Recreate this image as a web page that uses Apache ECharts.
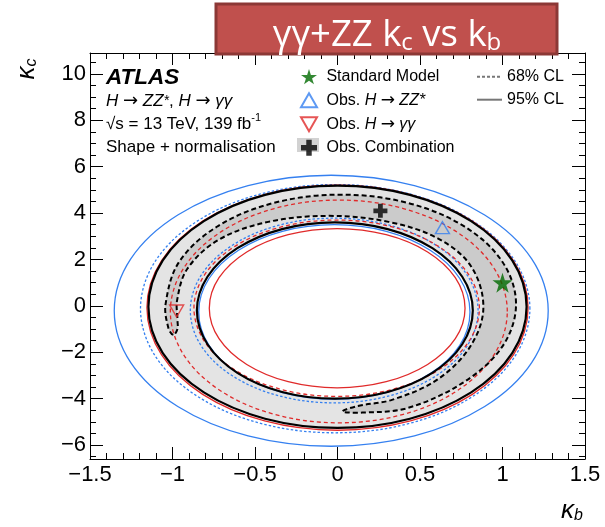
<!DOCTYPE html>
<html>
<head>
<meta charset="utf-8">
<script src="https://cdn.jsdelivr.net/npm/echarts@6/dist/echarts.min.js"></script>
<style>html,body{margin:0;padding:0;background:#fff}#chart{width:605px;height:527px}</style>
</head>
<body>
<div id="chart"></div>
<script>
// ---------------- data ----------------
const xTicks = [-1.5, -1, -0.5, 0, 0.5, 1, 1.5];
const xTickLabels = ['\u22121.5', '\u22121', '\u22120.5', '0', '0.5', '1', '1.5'];
const xMinorTicks = [-1.4,-1.3,-1.2,-1.1,-0.9,-0.8,-0.7,-0.6,-0.4,-0.3,-0.2,-0.1,0.1,0.2,0.3,0.4,0.6,0.7,0.8,0.9,1.1,1.2,1.3,1.4];
const yTicks = [-6, -4, -2, 0, 2, 4, 6, 8, 10];
const yTickLabels = ['\u22126', '\u22124', '\u22122', '0', '2', '4', '6', '8', '10'];
const yMinorTicks = [-6.5,-5.5,-5,-4.5,-3.5,-3,-2.5,-1.5,-1,-0.5,0.5,1,1.5,2.5,3,3.5,4.5,5,5.5,6.5,7,7.5,8.5,9,9.5,10.5];

// contours (kappa_b, kappa_c)
const zzObs95Outer = [[1.277,-0.21],[1.177,2.027],[0.892,3.919],[0.466,5.186],[-0.038,5.63],[-0.542,5.186],[-0.968,3.919],[-1.253,2.027],[-1.353,-0.21],[-1.253,-2.447],[-0.968,-4.339],[-0.542,-5.606],[-0.038,-6.05],[0.466,-5.606],[0.892,-4.339],[1.177,-2.447]];
const zzObs68Outer = [[1.166,-0.12],[1.076,1.929],[0.820,3.662],[0.438,4.823],[-0.014,5.23],[-0.466,4.823],[-0.848,3.662],[-1.104,1.929],[-1.194,-0.12],[-1.104,-2.169],[-0.848,-3.902],[-0.466,-5.063],[-0.014,-5.47],[0.438,-5.063],[0.820,-3.902],[1.076,-2.169]];
const combObs95Outer = [[1.146,-0.04],[1.059,1.959],[0.810,3.651],[0.439,4.783],[0,5.18],[-0.439,4.783],[-0.810,3.651],[-1.059,1.959],[-1.146,-0.04],[-1.059,-2.039],[-0.810,-3.731],[-0.439,-4.863],[0,-5.26],[0.439,-4.863],[0.810,-3.731],[1.059,-2.039]];
const ggObs95Outer = [[1.155,-0.08],[1.067,1.942],[0.817,3.653],[0.442,4.799],[0,5.2],[-0.442,4.799],[-0.817,3.653],[-1.067,1.942],[-1.155,-0.08],[-1.067,-2.102],[-0.817,-3.813],[-0.442,-4.959],[0,-5.36],[0.442,-4.959],[0.817,-3.813],[1.067,-2.102]];
const ggObs68Outer = [[1.029,-0.24],[0.951,1.598],[0.730,3.154],[0.399,4.195],[0.008,4.56],[-0.383,4.195],[-0.714,3.154],[-0.935,1.598],[-1.013,-0.24],[-0.935,-2.078],[-0.714,-3.634],[-0.383,-4.675],[0.008,-5.04],[0.399,-4.675],[0.730,-3.634],[0.951,-2.078]];
const ggObs68Inner = [[0.86,-0.1],[0.794,1.355],[0.607,2.587],[0.326,3.411],[-0.005,3.7],[-0.336,3.411],[-0.617,2.587],[-0.804,1.355],[-0.87,-0.1],[-0.804,-1.555],[-0.617,-2.787],[-0.336,-3.611],[-0.005,-3.9],[0.326,-3.611],[0.607,-2.787],[0.794,-1.555]];
const zzObs68Inner = [[0.852,-0.2],[0.786,1.324],[0.597,2.614],[0.314,3.478],[-0.02,3.78],[-0.354,3.478],[-0.637,2.614],[-0.826,1.324],[-0.892,-0.2],[-0.826,-1.724],[-0.637,-3.014],[-0.354,-3.878],[-0.02,-4.18],[0.314,-3.878],[0.597,-3.014],[0.786,-1.724]];
const combObs95Inner = [[0.82,-0.2],[0.756,1.255],[0.575,2.487],[0.304,3.311],[-0.016,3.6],[-0.336,3.311],[-0.607,2.487],[-0.788,1.255],[-0.852,-0.2],[-0.788,-1.655],[-0.607,-2.887],[-0.336,-3.711],[-0.016,-4.0],[0.304,-3.711],[0.575,-2.887],[0.756,-1.655]];
const zzObs95Inner = [[0.803,-0.26],[0.741,1.18],[0.562,2.398],[0.296,3.214],[-0.019,3.5],[-0.334,3.214],[-0.6,2.398],[-0.779,1.18],[-0.841,-0.26],[-0.779,-1.70],[-0.6,-2.918],[-0.334,-3.734],[-0.019,-4.02],[0.296,-3.734],[0.562,-2.918],[0.741,-1.70]];
const ggObs95Inner = [[0.773,-0.1],[0.714,1.214],[0.546,2.325],[0.295,3.069],[-0.002,3.33],[-0.299,3.069],[-0.55,2.325],[-0.718,1.214],[-0.777,-0.1],[-0.718,-1.414],[-0.55,-2.525],[-0.299,-3.269],[-0.002,-3.53],[0.295,-3.269],[0.546,-2.525],[0.714,-1.414]];
const combObs68 = [[-0.995,-1.25],[-1.025,-0.95],[-1.042,0.075],[-0.961,1.883],[-0.731,3.412],[-0.387,4.436],[0.02,4.795],[0.427,4.436],[0.771,3.412],[1.001,1.883],[1.082,0.075],[1.001,-1.733],[0.771,-3.262],[0.427,-4.40],[0.15,-4.6],[0.03,-4.55],[0.12,-4.32],[0.33,-4.05],[0.6,-3.2],[0.80,-1.8],[0.884,-0.1],[0.81,1.7],[0.61,2.9],[0.31,3.62],[-0.05,3.88],[-0.42,3.62],[-0.72,2.85],[-0.91,1.6],[-0.972,0.25],[-0.97,-0.6],[-0.97,-1.0]];

// best-fit / reference points
const smPoint = [[1.0, 1.0]];
const zzBestFit = [[0.636, 3.37]];
const ggBestFit = [[-0.975, -0.22]];
const combBestFit = [[0.26, 4.1]];

// ---------------- style ----------------
const FONT = '"Liberation Sans", Arial, Helvetica, sans-serif';
const ARROWFONT = '"DejaVu Sans", sans-serif';
const BLUE = '#3580f0';
const RED = '#e02a2a';
const GREY_LIGHT = '#e4e4e4';
const GREY_DARK = '#cbcbcb';

const STAR = 'path://M50,0 L61.2,34.5 L97.6,34.5 L68.2,55.9 L79.4,90.5 L50,69.1 L20.6,90.5 L31.8,55.9 L2.4,34.5 L38.8,34.5 Z';
const TRI_UP = 'path://M50,0 L100,87 L0,87 Z';
const TRI_DOWN = 'path://M0,0 L100,0 L50,87 Z';
const PLUS = 'path://M33,0 H67 V33 H100 V67 H67 V100 H33 V67 H0 V33 H33 Z';

function contourSeries(name, pts, style, z) {
  return {
    type: 'custom', name: name, data: pts, z: z, silent: true,
    renderItem: function (params, api) {
      if (params.dataIndex !== 0) return null;
      return {
        type: 'polygon',
        shape: { points: pts.map(function (p) { return api.coord(p); }), smooth: 0.35 },
        style: style
      };
    }
  };
}

function axisCommon(extra) {
  return Object.assign({
    type: 'value', splitLine: { show: false }, minorSplitLine: { show: false },
    axisLine: { show: false, onZero: false },
    axisLabel: { show: false }
  }, extra);
}

const xMin = -1.5, xMax = 1.5, yMin = -6.6, yMax = 10.9;

const labelStyle = { fontFamily: FONT, fontSize: 22, color: '#000' };

const xAxes = [
  axisCommon({ position: 'bottom', min: xMin, max: xMax,
    axisLine: { show: true, onZero: false, lineStyle: { color: '#000', width: 1 } },
    axisTick: { show: true, inside: true, length: 12, customValues: xTicks, lineStyle: { color: '#000' } },
    axisLabel: Object.assign({ show: true, customValues: xTicks, margin: 5,
      formatter: function (v) { const i = xTicks.indexOf(v); return i >= 0 ? xTickLabels[i] : ''; } }, labelStyle) }),
  axisCommon({ position: 'bottom', min: xMin, max: xMax,
    axisTick: { show: true, inside: true, length: 6, customValues: xMinorTicks, lineStyle: { color: '#000' } } }),
  axisCommon({ position: 'top', min: xMin, max: xMax,
    axisLine: { show: true, onZero: false, lineStyle: { color: '#000', width: 1 } },
    axisTick: { show: true, inside: true, length: 12, customValues: xTicks, lineStyle: { color: '#000' } } }),
  axisCommon({ position: 'top', min: xMin, max: xMax,
    axisTick: { show: true, inside: true, length: 6, customValues: xMinorTicks, lineStyle: { color: '#000' } } })
];
const yAxes = [
  axisCommon({ position: 'left', min: yMin, max: yMax,
    axisLine: { show: true, onZero: false, lineStyle: { color: '#000', width: 1 } },
    axisTick: { show: true, inside: true, length: 13, customValues: yTicks, lineStyle: { color: '#000' } },
    axisLabel: Object.assign({ show: true, customValues: yTicks, margin: 4,
      formatter: function (v) { const i = yTicks.indexOf(v); return i >= 0 ? yTickLabels[i] : ''; } }, labelStyle) }),
  axisCommon({ position: 'left', min: yMin, max: yMax,
    axisTick: { show: true, inside: true, length: 6, customValues: yMinorTicks, lineStyle: { color: '#000' } } }),
  axisCommon({ position: 'right', min: yMin, max: yMax,
    axisLine: { show: true, onZero: false, lineStyle: { color: '#000', width: 1 } },
    axisTick: { show: true, inside: true, length: 13, customValues: yTicks, lineStyle: { color: '#000' } } }),
  axisCommon({ position: 'right', min: yMin, max: yMax,
    axisTick: { show: true, inside: true, length: 6, customValues: yMinorTicks, lineStyle: { color: '#000' } } })
];

const legendFmt = {
  'Standard Model': ' Standard Model',
  'Obs. H \u2192 ZZ*': ' Obs. {i|H} {r|\u2192} {i|ZZ}{i|*}',
  'Obs. H \u2192 \u03b3\u03b3': ' Obs. {i|H} {r|\u2192} {i|\u03b3\u03b3}',
  'Obs. Combination': ' Obs. Combination',
  '68% CL': '68% CL',
  '95% CL': '95% CL'
};
const legendText = { fontFamily: FONT, fontSize: 16, lineHeight: 16, color: '#000',
  rich: { i: { fontFamily: FONT, fontSize: 16, lineHeight: 16, fontStyle: 'italic', color: '#000' },
          r: { fontFamily: ARROWFONT, fontSize: 17, lineHeight: 16, color: '#000' } } };

const option = {
  animation: false,
  backgroundColor: '#fff',
  grid: { left: 90, right: 20, top: 53, bottom: 68, containLabel: false, outerBoundsMode: 'none' },
  xAxis: xAxes,
  yAxis: yAxes,
  title: {
    left: 106, top: 66.5, padding: 0,
    text: '{a|ATLAS}\n{i|H} {r|\u2192} {i|ZZ}{s|*}, {i|H} {r|\u2192} {i|\u03b3\u03b3}\n\u221As = 13 TeV, 139 fb{p|-1}\nShape + normalisation',
    textStyle: { fontFamily: FONT, fontSize: 17, fontWeight: 'normal', lineHeight: 23, color: '#000',
      rich: {
        a: { fontFamily: FONT, fontSize: 22.5, fontWeight: 'bold', fontStyle: 'italic', lineHeight: 23, color: '#000' },
        i: { fontFamily: FONT, fontSize: 17, fontStyle: 'italic', lineHeight: 23, color: '#000' },
        r: { fontFamily: ARROWFONT, fontSize: 18, lineHeight: 23, color: '#000' },
        s: { fontFamily: FONT, fontSize: 14, fontStyle: 'italic', lineHeight: 23, color: '#000' },
        p: { fontFamily: FONT, fontSize: 11, lineHeight: 13, verticalAlign: 'top', color: '#000' }
      } }
  },
  legend: [
    { orient: 'vertical', left: 300, top: 68.7, itemWidth: 16, itemHeight: 16, itemGap: 7, padding: 0,
      selectedMode: false, data: ['Standard Model', 'Obs. H \u2192 ZZ*', 'Obs. H \u2192 \u03b3\u03b3', 'Obs. Combination'],
      formatter: function (n) { return legendFmt[n]; }, textStyle: legendText },
    { orient: 'vertical', left: 476, top: 68.7, itemWidth: 25, itemHeight: 16, itemGap: 7, padding: 0,
      selectedMode: false, data: ['68% CL', '95% CL'], itemStyle: { opacity: 0 },
      formatter: function (n) { return legendFmt[n]; }, textStyle: legendText }
  ],
  graphic: [
    { type: 'rect', z: 1, silent: true, shape: { x: 297, y: 138, width: 22, height: 14 }, style: { fill: '#d2d2d2' } },
    { type: 'text', z: 10, silent: true, x: 27, y: 69, rotation: Math.PI / 2,
      style: { text: '{k|\u03ba}{s|c}', align: 'center', verticalAlign: 'middle', fill: '#000',
        rich: { k: { fontFamily: FONT, fontSize: 26, fontStyle: 'italic', lineHeight: 26, fill: '#000' },
                s: { fontFamily: FONT, fontSize: 16, fontStyle: 'italic', lineHeight: 14, verticalAlign: 'bottom', fill: '#000' } } } },
    { type: 'text', z: 10, silent: true, x: 572, y: 511,
      style: { text: '{k|\u03ba}{s|b}', align: 'center', verticalAlign: 'middle', fill: '#000',
        rich: { k: { fontFamily: FONT, fontSize: 26, fontStyle: 'italic', lineHeight: 26, fill: '#000' },
                s: { fontFamily: FONT, fontSize: 16, fontStyle: 'italic', lineHeight: 14, verticalAlign: 'bottom', fill: '#000' } } } },
    { type: 'rect', z: 100, silent: true, shape: { x: 216, y: 4, width: 341, height: 50 },
      style: { fill: '#c0504d', stroke: '#8c3836', lineWidth: 3 } },
    { type: 'text', z: 101, silent: true, x: 387, y: 36,
      style: { text: '{m|\u03b3\u03b3+ZZ k}{s|c}{m| vs k}{s|b}', align: 'center', verticalAlign: 'middle', fill: '#fff',
        rich: { m: { fontFamily: '"Open Sans", "Noto Sans", sans-serif', fontSize: 36.5, lineHeight: 38, fill: '#fff' },
                s: { fontFamily: '"Open Sans", "Noto Sans", sans-serif', fontSize: 24, lineHeight: 19, verticalAlign: 'bottom', fill: '#fff' } } } }
  ],
  series: [
    contourSeries('comb95 fill', combObs95Outer, { fill: GREY_LIGHT, stroke: 'none' }, 1),
    contourSeries('comb95 hole', combObs95Inner, { fill: '#fff', stroke: 'none' }, 1.1),
    contourSeries('comb68 fill', combObs68, { fill: GREY_DARK, stroke: 'none' }, 1.2),
    contourSeries('zz95 outer', zzObs95Outer, { fill: 'none', stroke: BLUE, lineWidth: 1.3 }, 3),
    contourSeries('zz95 inner', zzObs95Inner, { fill: 'none', stroke: BLUE, lineWidth: 1.3 }, 3),
    contourSeries('zz68 outer', zzObs68Outer, { fill: 'none', stroke: BLUE, lineWidth: 1.3, lineDash: [2.5, 2] }, 3),
    contourSeries('zz68 inner', zzObs68Inner, { fill: 'none', stroke: BLUE, lineWidth: 1.3, lineDash: [2.5, 2] }, 3),
    contourSeries('gg95 outer', ggObs95Outer, { fill: 'none', stroke: RED, lineWidth: 1.3 }, 3.1),
    contourSeries('gg95 inner', ggObs95Inner, { fill: 'none', stroke: RED, lineWidth: 1.3 }, 3.1),
    contourSeries('gg68 outer', ggObs68Outer, { fill: 'none', stroke: RED, lineWidth: 1.3, lineDash: [4, 3] }, 3.1),
    contourSeries('gg68 inner', ggObs68Inner, { fill: 'none', stroke: RED, lineWidth: 1.3, lineDash: [4, 3] }, 3.1),
    contourSeries('comb95 outer', combObs95Outer, { fill: 'none', stroke: '#000', lineWidth: 2.2 }, 3.2),
    contourSeries('comb95 inner', combObs95Inner, { fill: 'none', stroke: '#000', lineWidth: 2.2 }, 3.2),
    contourSeries('comb68 line', combObs68, { fill: 'none', stroke: '#000', lineWidth: 2, lineDash: [5, 3] }, 3.2),
    { type: 'scatter', name: 'Standard Model', data: smPoint, symbol: STAR, symbolSize: 20, z: 10, silent: true,
      itemStyle: { color: '#006a00' } },
    { type: 'scatter', name: 'Obs. H \u2192 ZZ*', data: zzBestFit, symbol: TRI_UP, symbolSize: [14, 12], z: 10, silent: true,
      itemStyle: { color: 'rgba(0,0,0,0)', borderColor: BLUE, borderWidth: 1.4 } },
    { type: 'scatter', name: 'Obs. H \u2192 \u03b3\u03b3', data: ggBestFit, symbol: TRI_DOWN, symbolSize: [14, 12], z: 10, silent: true,
      itemStyle: { color: 'rgba(0,0,0,0)', borderColor: RED, borderWidth: 1.4 } },
    { type: 'scatter', name: 'Obs. Combination', data: combBestFit, symbol: PLUS, symbolSize: 14, z: 10, silent: true,
      itemStyle: { color: '#000' } },
    { type: 'line', name: '68% CL', data: [], symbol: 'none', showSymbol: false, itemStyle: { color: '#777' },
      lineStyle: { color: '#777', width: 1.5, type: [3, 2] } },
    { type: 'line', name: '95% CL', data: [], symbol: 'none', showSymbol: false, itemStyle: { color: '#777' },
      lineStyle: { color: '#777', width: 1.5, type: 'solid' } }
  ]
};

const chart = echarts.init(document.getElementById('chart'), null, { renderer: 'canvas' });
chart.setOption(option);
</script>
</body>
</html>
